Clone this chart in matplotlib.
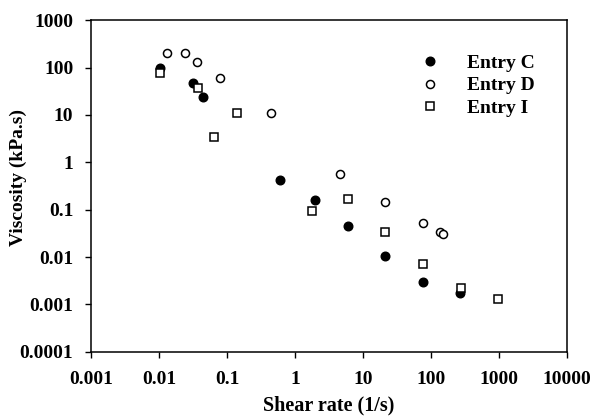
import numpy as np
import matplotlib
matplotlib.use("Agg")
import matplotlib.pyplot as plt
from matplotlib.ticker import FixedLocator, FuncFormatter, NullLocator

plt.rcParams['font.family'] = ['Liberation Serif', 'DejaVu Serif']
plt.rcParams['font.weight'] = 'bold'

# shear rate (1/s) and viscosity (kPa.s)
rate_c = [0.0102, 0.031, 0.0444, 0.596, 1.95, 5.9, 21.1, 75.5, 270]
visc_c = [97, 48, 24.3, 0.42, 0.16, 0.0458, 0.0103, 0.0029, 0.0017]

rate_d = [0.0131, 0.0241, 0.0355, 0.078, 0.435, 4.59, 21.1, 75.5, 134, 150]
visc_d = [201, 201, 133, 60, 10.8, 0.575, 0.147, 0.053, 0.034, 0.030]

rate_i = [0.0102, 0.0375, 0.0637, 0.139, 1.78, 5.9, 21.3, 76, 273, 980]
visc_i = [76, 37.7, 3.48, 10.8, 0.094, 0.166, 0.034, 0.0070, 0.00225, 0.00132]

xticks = [0.001, 0.01, 0.1, 1, 10, 100, 1000, 10000]
yticks = [0.0001, 0.001, 0.01, 0.1, 1, 10, 100, 1000]

fig = plt.figure(figsize=(5.94, 4.16), dpi=100)
ax = fig.add_axes([0.1537, 0.1546, 0.8008, 0.7966])

ax.plot(rate_c, visc_c, 'o', ms=6.2, mfc='black', mec='black', mew=1.0,
        label='Entry C', linestyle='none')
ax.plot(rate_d, visc_d, 'o', ms=5.8, mfc='white', mec='black', mew=1.1,
        label='Entry D', linestyle='none')
ax.plot(rate_i, visc_i, 's', ms=5.4, mfc='white', mec='black', mew=1.1,
        label='Entry I', linestyle='none')

ax.set_xscale('log')
ax.set_yscale('log')
ax.set_xlim(0.001, 10000)
ax.set_ylim(0.0001, 1000)

fmt = FuncFormatter(lambda v, p: '{:g}'.format(v) if v >= 1e-4 else '0.0001')
ax.xaxis.set_major_locator(FixedLocator(xticks))
ax.yaxis.set_major_locator(FixedLocator(yticks))
ax.xaxis.set_minor_locator(NullLocator())
ax.yaxis.set_minor_locator(NullLocator())
ax.xaxis.set_major_formatter(fmt)
ax.yaxis.set_major_formatter(fmt)

ax.tick_params(direction='out', length=4, width=1, labelsize=14)
ax.tick_params(axis='y', pad=9)
ax.tick_params(axis='x', pad=10)
for lab in ax.get_xticklabels() + ax.get_yticklabels():
    lab.set_fontweight('bold')
for s in ax.spines.values():
    s.set_linewidth(1.1)

ax.set_xlabel('Shear rate (1/s)', fontsize=14.5, fontweight='bold')
ax.set_ylabel('Viscosity (kPa.s)', fontsize=14, fontweight='bold')
ax.xaxis.set_label_coords(0.5, -0.131)
ax.yaxis.set_label_coords(-0.135, 0.526)

leg = ax.legend(loc='upper right', bbox_to_anchor=(0.97, 0.95), frameon=False,
                prop={'size': 14, 'weight': 'bold'}, handletextpad=1.45,
                labelspacing=0.25, handlelength=1.0)

fig.savefig('out.png', dpi=100)
